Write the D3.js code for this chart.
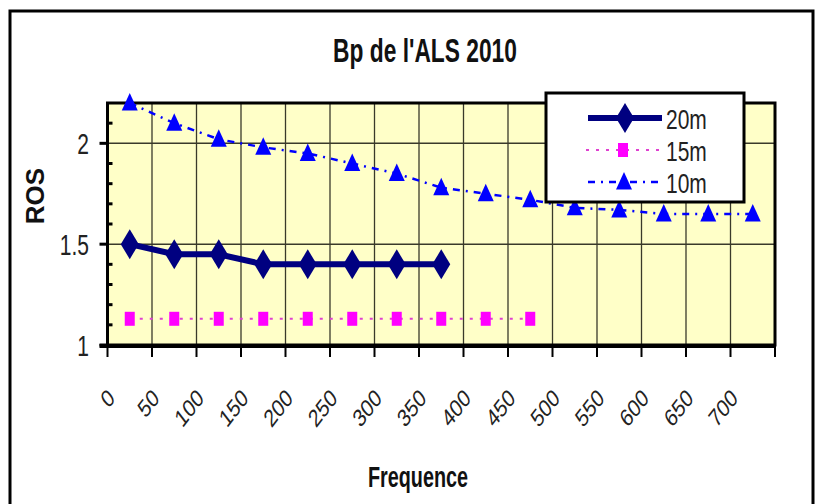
<!DOCTYPE html>
<html><head><meta charset="utf-8">
<script src="https://cdn.jsdelivr.net/npm/d3@7"></script>
<style>
html,body{margin:0;padding:0;background:#fff;}
svg{display:block;}
text{font-family:"Liberation Sans",Arial,sans-serif;}
</style></head>
<body>
<svg id="chart" width="819" height="504"></svg>
<script>
const categories = ["0","50","100","150","200","250","300","350","400","450","500","550","600","650","700"];
const ros20 = [1.5,1.45,1.45,1.4,1.4,1.4,1.4,1.4];
const ros15 = [1.13,1.13,1.13,1.13,1.13,1.13,1.13,1.13,1.13,1.13];
const ros10 = [2.2,2.1,2.02,1.98,1.95,1.9,1.85,1.78,1.75,1.72,1.68,1.67,1.65,1.65,1.65];
const yMajor = [1,1.5,2];
const yMinor = [1.1,1.2,1.3,1.4,1.6,1.7,1.8,1.9,2.1];
const seriesNames = ["20m","15m","10m"];

const svg = d3.select("#chart");
const L = 107.5, R = 775, T = 103, B = 345;
const x = d3.scaleBand().domain(categories).range([L, R]).padding(0);
const y = d3.scaleLinear().domain([1, 2.2]).range([B, T]);
const cx = c => x(c) + x.bandwidth()/2;

// outer frame
svg.append("rect").attr("x",10).attr("y",11).attr("width",803).attr("height",520)
  .attr("fill","#fff").attr("stroke","#000").attr("stroke-width",3);

// title
svg.append("text").attr("transform",`translate(425,62) scale(0.67,1)`).attr("text-anchor","middle")
  .attr("font-size",34).attr("font-weight","bold").attr("fill","#111").text("Bp de l'ALS 2010");

// plot background
svg.append("rect").attr("x",L).attr("y",T).attr("width",R-L).attr("height",B-T).attr("fill","#FFFFC8");

// vertical gridlines at category boundaries
svg.append("g").selectAll("line").data(categories.slice(1)).join("line")
  .attr("x1",d=>x(d)).attr("x2",d=>x(d)).attr("y1",T).attr("y2",B)
  .attr("stroke","#3a3a2a").attr("stroke-width",1.3);
// horizontal gridlines
svg.append("g").selectAll("line").data(yMajor.slice(1)).join("line")
  .attr("x1",L).attr("x2",R).attr("y1",d=>y(d)).attr("y2",d=>y(d))
  .attr("stroke","#3a3a2a").attr("stroke-width",1.5);

// plot border
svg.append("rect").attr("x",L).attr("y",T).attr("width",R-L).attr("height",B-T)
  .attr("fill","none").attr("stroke","#000").attr("stroke-width",3);

// y axis ticks
svg.append("g").selectAll("line").data(yMajor).join("line")
  .attr("x1",L-8).attr("x2",L).attr("y1",d=>y(d)).attr("y2",d=>y(d))
  .attr("stroke","#000").attr("stroke-width",3);
svg.append("g").selectAll("line").data(yMinor).join("line")
  .attr("x1",L).attr("x2",L+5).attr("y1",d=>y(d)).attr("y2",d=>y(d))
  .attr("stroke","#000").attr("stroke-width",3);
svg.append("g").selectAll("text").data(yMajor).join("text")
  .attr("transform",d=>`translate(89,${y(d)+11}) scale(0.7,1)`).attr("text-anchor","end")
  .attr("font-size",30).attr("fill","#222").text(d=>d);

// x axis line and ticks
svg.append("line").attr("x1",L-8).attr("x2",R+1).attr("y1",B+1).attr("y2",B+1).attr("stroke","#000").attr("stroke-width",4);
const bounds = categories.map(c=>x(c)).concat([R]);
svg.append("g").selectAll("line").data(bounds).join("line")
  .attr("x1",d=>d).attr("x2",d=>d).attr("y1",B).attr("y2",B+12)
  .attr("stroke","#000").attr("stroke-width",2);
svg.append("g").selectAll("text").data(categories).join("text")
  .attr("transform",d=>`translate(${x(d)+8.5},399.5) scale(1,1.3) rotate(-45)`)
  .attr("text-anchor","end").attr("font-size",19).attr("fill","#222").text(d=>d);

// axis titles
svg.append("text").attr("transform",`translate(418,487) scale(0.66,1)`).attr("text-anchor","middle")
  .attr("font-size",30).attr("font-weight","bold").attr("fill","#111").text("Frequence");
svg.append("text").attr("transform","translate(44,196) rotate(-90)").attr("text-anchor","middle")
  .attr("font-size",26).attr("font-weight","bold").attr("fill","#111").text("ROS");

// series
const line = d3.line().x((d,i)=>cx(categories[i])).y(d=>y(d));
const diamond = (s)=>`M0,${-s*1.5}L${s*0.9},0L0,${s*1.5}L${-s*0.9},0Z`;
const tri = (s)=>`M0,${-s}L${s*0.8},${s*0.75}L${-s*0.8},${s*0.75}Z`;

// 10m
svg.append("path").datum(ros10).attr("d",line).attr("fill","none").attr("stroke","#0000FF")
  .attr("stroke-width",2.5).attr("stroke-dasharray","7,6,2,6");
svg.append("g").selectAll("path").data(ros10).join("path")
  .attr("transform",(d,i)=>`translate(${cx(categories[i])},${y(d)})`).attr("d",tri(10)).attr("fill","#0000FF");

// 15m
svg.append("path").datum(ros15).attr("d",line).attr("fill","none").attr("stroke","#E040D0")
  .attr("stroke-width",2).attr("stroke-dasharray","3,7");
svg.append("g").selectAll("rect").data(ros15).join("rect")
  .attr("x",(d,i)=>cx(categories[i])-5).attr("y",d=>y(d)-7).attr("width",10).attr("height",14).attr("fill","#FF00FF");

// 20m
svg.append("path").datum(ros20).attr("d",line).attr("fill","none").attr("stroke","#000080")
  .attr("stroke-width",6).attr("stroke-linecap","round");
svg.append("g").selectAll("path").data(ros20).join("path")
  .attr("transform",(d,i)=>`translate(${cx(categories[i])},${y(d)})`).attr("d",diamond(10)).attr("fill","#000080");

// legend
const lg = svg.append("g");
lg.append("rect").attr("x",546).attr("y",93).attr("width",198).attr("height",109)
  .attr("fill","#fff").attr("stroke","#000").attr("stroke-width",3);
const ly = [118,150,182];
lg.append("line").attr("x1",588).attr("x2",662).attr("y1",ly[0]).attr("y2",ly[0]).attr("stroke","#000080").attr("stroke-width",6);
lg.append("path").attr("transform",`translate(625,${ly[0]})`).attr("d",diamond(10)).attr("fill","#000080");
lg.append("line").attr("x1",586).attr("x2",662).attr("y1",ly[1]).attr("y2",ly[1]).attr("stroke","#E040D0").attr("stroke-width",2).attr("stroke-dasharray","3,7");
lg.append("rect").attr("x",618).attr("y",ly[1]-7).attr("width",10).attr("height",14).attr("fill","#FF00FF");
lg.append("line").attr("x1",588).attr("x2",662).attr("y1",ly[2]).attr("y2",ly[2]).attr("stroke","#0000FF").attr("stroke-width",2.5).attr("stroke-dasharray","7,6,2,6");
lg.append("path").attr("transform",`translate(624,${ly[2]})`).attr("d",tri(10)).attr("fill","#0000FF");
lg.selectAll("text").data(seriesNames).join("text")
  .attr("transform",(d,i)=>`translate(666,${ly[i]+11}) scale(0.75,1)`).attr("font-size",28).attr("fill","#222").text(d=>d);
</script>
</body></html>
